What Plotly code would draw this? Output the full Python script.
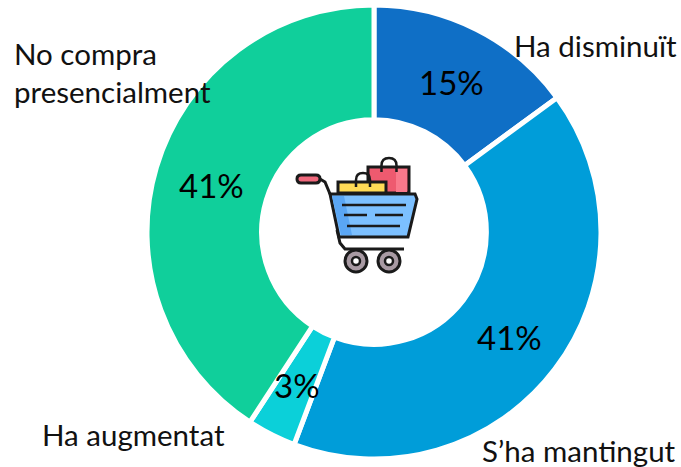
import plotly.graph_objects as go

categories = ["Ha disminuït", "S’ha mantingut", "Ha augmentat", "No compra<br>presencialment"]
values = [15, 41, 3.5, 41]
pct_labels = ["15%", "41%", "3%", "41%"]
colors = ["#0F6FC6", "#009DD9", "#0BD0D9", "#10CF9B"]

W, H = 681, 467
def X(p): return p / W
def Y(p): return 1 - p / H

fig = go.Figure(go.Pie(
    values=values, labels=categories, hole=0.495, sort=False, direction="clockwise",
    rotation=0, textinfo="none", hoverinfo="label+percent",
    marker=dict(colors=colors, line=dict(color="white", width=5)),
    domain=dict(x=[X(147), X(601)], y=[Y(459), Y(5)]), showlegend=False,
))

pct_pos = [(451, 82), (509, 337), (297, 385), (211, 185)]
cat_pos = [(595, 46, "center"), (579, 450, "center"), (133, 434, "center"), (12, 73, "left")]
ann = []
for t, (x, y) in zip(pct_labels, pct_pos):
    ann.append(dict(x=X(x), y=Y(y), text=t, xref="paper", yref="paper", showarrow=False,
                    xanchor="center", yanchor="middle", font=dict(size=33, color="black")))
for t, (x, y, a) in zip(categories, cat_pos):
    ann.append(dict(x=X(x), y=Y(y), text=t, xref="paper", yref="paper", showarrow=False,
                    xanchor=a, yanchor="middle", align="left", font=dict(size=29.5, color="#111111")))

INK = "#1A1A1A"
def pt(x, y): return f"{X(x):.5f},{Y(y):.5f}"
def path(points, close=True):
    s = "M" + " L".join(pt(x, y) for x, y in points)
    return s + (" Z" if close else "")
def poly(points, fill, close=True, width=3):
    return dict(type="path", xref="paper", yref="paper", path=path(points, close),
                fillcolor=fill if close else "rgba(0,0,0,0)",
                line=dict(color=INK if width else "rgba(0,0,0,0)", width=width))
def line(x0, y0, x1, y1, width=2.5):
    return dict(type="line", xref="paper", yref="paper", x0=X(x0), y0=Y(y0), x1=X(x1), y1=Y(y1),
                line=dict(color=INK, width=width))
def circ(cx, cy, r, fill, width=3):
    return dict(type="circle", xref="paper", yref="paper", x0=X(cx - r), x1=X(cx + r), y0=Y(cy - r), y1=Y(cy + r),
                fillcolor=fill, line=dict(color=INK, width=width))
def arch(cx, r, top, foot):
    d = f"M{pt(cx - r, foot)} L{pt(cx - r, top + r)} Q{pt(cx - r, top)} {pt(cx, top)} Q{pt(cx + r, top)} {pt(cx + r, top + r)} L{pt(cx + r, foot)}"
    return dict(type="path", xref="paper", yref="paper", path=d, fillcolor="rgba(0,0,0,0)", line=dict(color=INK, width=2.5))
def pill(x0, x1, y0, y1, fill):
    r = (y1 - y0) / 2
    d = (f"M{pt(x0 + r, y0)} L{pt(x1 - r, y0)} Q{pt(x1, y0)} {pt(x1, y0 + r)} Q{pt(x1, y1)} {pt(x1 - r, y1)} "
         f"L{pt(x0 + r, y1)} Q{pt(x0, y1)} {pt(x0, y0 + r)} Q{pt(x0, y0)} {pt(x0 + r, y0)} Z")
    return dict(type="path", xref="paper", yref="paper", path=d, fillcolor=fill, line=dict(color=INK, width=3))

shapes = [
    poly([(368, 167), (409, 167), (409, 193), (368, 193)], "#EE5A6F"),
    poly([(396, 169), (407, 169), (407, 192), (396, 192)], "#F9798B", width=0),
    arch(389, 7.5, 158, 172),
    poly([(338, 182), (386, 182), (386, 193), (338, 193)], "#FFDB56"),
    arch(363, 7, 173, 187),
    poly([(330, 194), (415, 194), (417, 199), (408, 237), (339, 237)], "#7CC0FF"),
    poly([(332, 196), (344, 196), (352, 235), (341, 235)], "#5AA6F4", width=0),
    poly([(320, 179), (325, 182), (330, 194)], "", close=False),
    poly([(337, 230), (340, 243), (345, 249), (404, 249)], "", close=False),
    pill(297, 320, 175, 183, "#F0687C"),
    line(342, 205, 406, 205), line(344, 215, 367, 215), line(375, 215, 403, 215), line(347, 226, 400, 226),
    circ(356, 261, 11, "#A89AA3"), circ(356, 261, 4, "white", 2.5),
    circ(389, 261, 11, "#A89AA3"), circ(389, 261, 4, "white", 2.5),
]

fig.update_layout(
    width=W, height=H, margin=dict(l=0, r=0, t=0, b=0), paper_bgcolor="white",
    font=dict(family="Lato, Open Sans, sans-serif"), annotations=ann, shapes=shapes,
)
fig.write_html("out.html", post_script="document.body.style.margin='0';",
               config=dict(displayModeBar=False))
